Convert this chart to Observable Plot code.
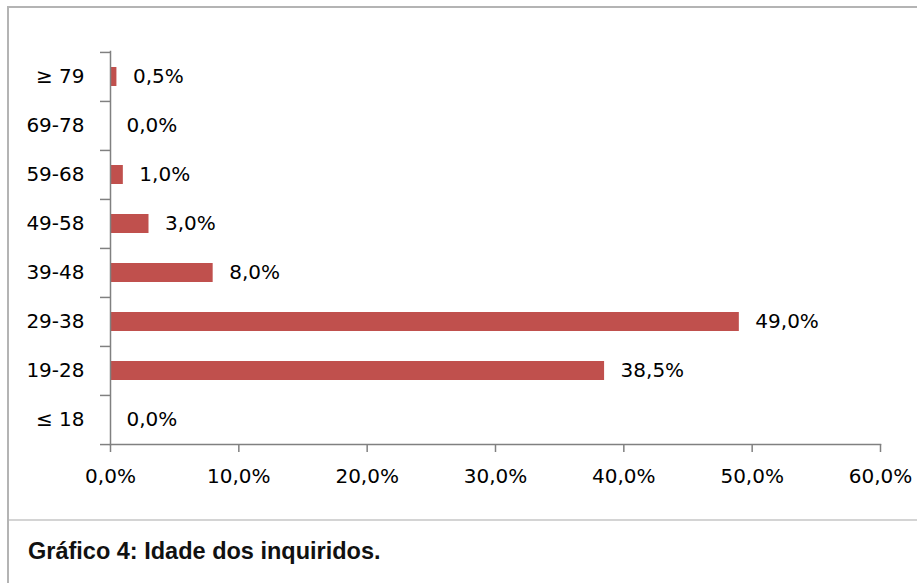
<!DOCTYPE html>
<html>
<head>
<meta charset="utf-8">
<script src="https://cdn.jsdelivr.net/npm/d3@7"></script>
<script src="https://cdn.jsdelivr.net/npm/@observablehq/plot@0.6"></script>
<style>
  html, body { margin: 0; padding: 0; background: #fff; }
  #wrap { position: relative; width: 917px; height: 583px; overflow: hidden; }
  #frame { position: absolute; left: 7px; top: 6px; width: 940px; height: 620px; border: 2px solid #b4b4b4; box-sizing: border-box; }
  #sep { position: absolute; left: 9px; top: 519px; width: 910px; height: 2px; background: #d4d4d4; }
  #chart { position: absolute; left: 0; top: 0; }
  #caption { position: absolute; left: 28px; top: 538px; font-family: "Liberation Sans", Arial, sans-serif; font-weight: bold; font-size: 23.5px; color: #111; white-space: nowrap; }
</style>
</head>
<body>
<div id="wrap">
  <div id="frame"></div>
  <div id="sep"></div>
  <div id="chart"></div>
  <div id="caption">Gráfico 4: Idade dos inquiridos.</div>
</div>
<script>
const categories = ["≥ 79", "69-78", "59-68", "49-58", "39-48", "29-38", "19-28", "≤ 18"];
const values = [0.005, 0.0, 0.010, 0.030, 0.080, 0.490, 0.385, 0.0];
const xTicks = [0, 0.1, 0.2, 0.3, 0.4, 0.5, 0.6];

const data = categories.map((c, i) => ({ category: c, value: values[i] }));
const pct = v => (v * 100).toFixed(1).replace(".", ",") + "%";

const width = 917, height = 520;
const marginTop = 51, marginBottom = 76, marginLeft = 110, marginRight = 37;
const bw = (height - marginTop - marginBottom) / categories.length;
const axisColor = "#808080";
const textColor = "#000000";
const font = "DejaVu Sans, Verdana, sans-serif";

const chart = Plot.plot({
  width, height, marginTop, marginBottom, marginLeft, marginRight,
  style: { fontFamily: font, fontSize: "20px", color: textColor, background: "transparent" },
  x: { domain: [0, 0.6], ticks: xTicks, tickFormat: pct, label: null },
  y: { domain: categories, padding: 0, label: null },
  marks: [
    Plot.barX(data, { y: "category", x: "value", fill: "#C0504D", insetTop: 15, insetBottom: 15 }),
    Plot.text(data, { y: "category", x: "value", text: d => pct(d.value), textAnchor: "start", dx: 16, fill: textColor, fontSize: 20 }),
    Plot.frame({ anchor: "left", stroke: axisColor, strokeWidth: 1.5 }),
    Plot.frame({ anchor: "bottom", stroke: axisColor, strokeWidth: 1.5 }),
    Plot.axisX({ ticks: xTicks, tickFormat: pct, tickSize: 8, tickPadding: 16, stroke: axisColor, strokeWidth: 1.5, fill: textColor, fontSize: 20, label: null }),
    Plot.axisY({ tickSize: 0, tickPadding: 26, fill: textColor, fontSize: 20, label: null }),
    Plot.axisY({ tickSize: 10, text: null, dy: -bw / 2, stroke: axisColor, strokeWidth: 1.5, label: null }),
    Plot.axisY({ ticks: [categories[categories.length - 1]], tickSize: 10, text: null, dy: bw / 2, stroke: axisColor, strokeWidth: 1.5, label: null })
  ]
});
document.getElementById("chart").appendChild(chart);
</script>
</body>
</html>
